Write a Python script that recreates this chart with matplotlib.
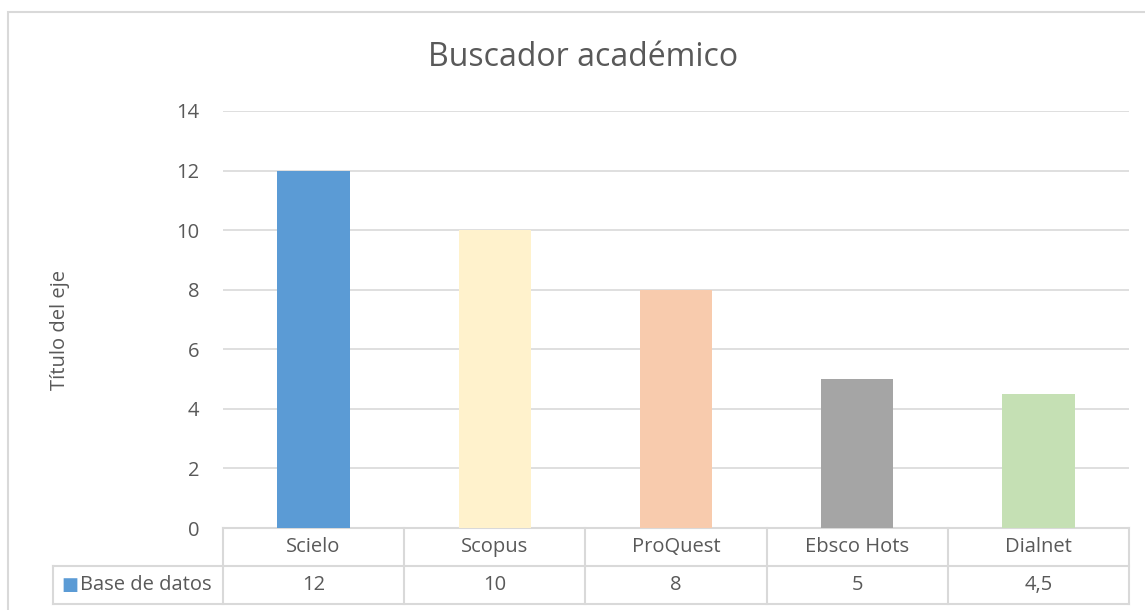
import matplotlib
matplotlib.use("Agg")
import matplotlib.pyplot as plt
from matplotlib.patches import Rectangle
from matplotlib.lines import Line2D

categories = ["Scielo", "Scopus", "ProQuest", "Ebsco Hots", "Dialnet"]
values = [12, 10, 8, 5, 4.5]
value_labels = ["12", "10", "8", "5", "4,5"]
series_name = "Base de datos"
colors = ["#5B9BD5", "#FFF2CC", "#F8CBAD", "#A5A5A5", "#C5E0B4"]
title = "Buscador académico"
ylabel = "Título del eje"
yticks = [0, 2, 4, 6, 8, 10, 12, 14]

W, H = 1145, 610
plt.rcParams['font.family'] = ['Open Sans', 'DejaVu Sans']
txt = "#595959"
grid = "#D9D9D9"
fs = 14.5

fig = plt.figure(figsize=(W / 100, H / 100), dpi=100)

def fx(px):
    return px / W

def fy(py):
    return 1 - py / H

# outer chart border
fig.patches.append(Rectangle((fx(8), fy(614)), fx(1150) - fx(8), fy(12) - fy(614),
                             transform=fig.transFigure, fill=False,
                             edgecolor=grid, linewidth=1.5))

left, right, top, bottom = 223, 1129, 111, 528
ax = fig.add_axes([fx(left), fy(bottom), fx(right) - fx(left), fy(top) - fy(bottom)])
ax.set_xlim(-0.5, len(categories) - 0.5)
ax.set_ylim(0, 14)
ax.set_yticks(yticks)
ax.yaxis.grid(True, color=grid, linewidth=1.2)
ax.set_axisbelow(True)
for s in ax.spines.values():
    s.set_visible(False)
ax.tick_params(axis='y', length=0, labelsize=fs, labelcolor=txt, pad=17)
ax.set_xticks([])

ax.bar(range(len(categories)), values, width=0.4, color=colors, zorder=3)

fig.text(fx(583), fy(57), title, fontsize=23, color=txt, ha='center', va='center')
fig.text(fx(60), fy(330), ylabel, fontsize=fs, color=txt, ha='center', va='center',
         rotation=90)

# data table
axh = bottom - top
row_h = 38 / axh
r1 = -row_h
r2 = -2 * row_h
leg_left = -0.5 - (left - 53) / ((right - left) / len(categories))
tr = ax.get_xaxis_transform()
lw = 1.5
def hline(x0, x1, y):
    ax.add_line(Line2D([x0, x1], [y, y], transform=tr, color=grid, lw=lw, clip_on=False))
def vline(x, y0, y1):
    ax.add_line(Line2D([x, x], [y0, y1], transform=tr, color=grid, lw=lw, clip_on=False))

n = len(categories)
hline(-0.5, n - 0.5, 0)
hline(leg_left, n - 0.5, r1)
hline(leg_left, n - 0.5, r2)
for i in range(n + 1):
    vline(i - 0.5, 0, r2)
vline(leg_left, r1, r2)

for i, c in enumerate(categories):
    ax.text(i, r1 / 2, c, transform=tr, ha='center', va='center', fontsize=fs, color=txt)
    ax.text(i, (r1 + r2) / 2, value_labels[i], transform=tr, ha='center', va='center',
            fontsize=fs, color=txt)

# legend key in table
ax.text(leg_left + 0.045, (r1 + r2) / 2, "■", transform=tr, ha='left', va='center',
        fontsize=13, color=colors[0], family=['DejaVu Sans'])
ax.text(leg_left + 0.15, (r1 + r2) / 2, series_name, transform=tr, ha='left', va='center',
        fontsize=fs, color=txt)

fig.savefig("out.png", dpi=100)
